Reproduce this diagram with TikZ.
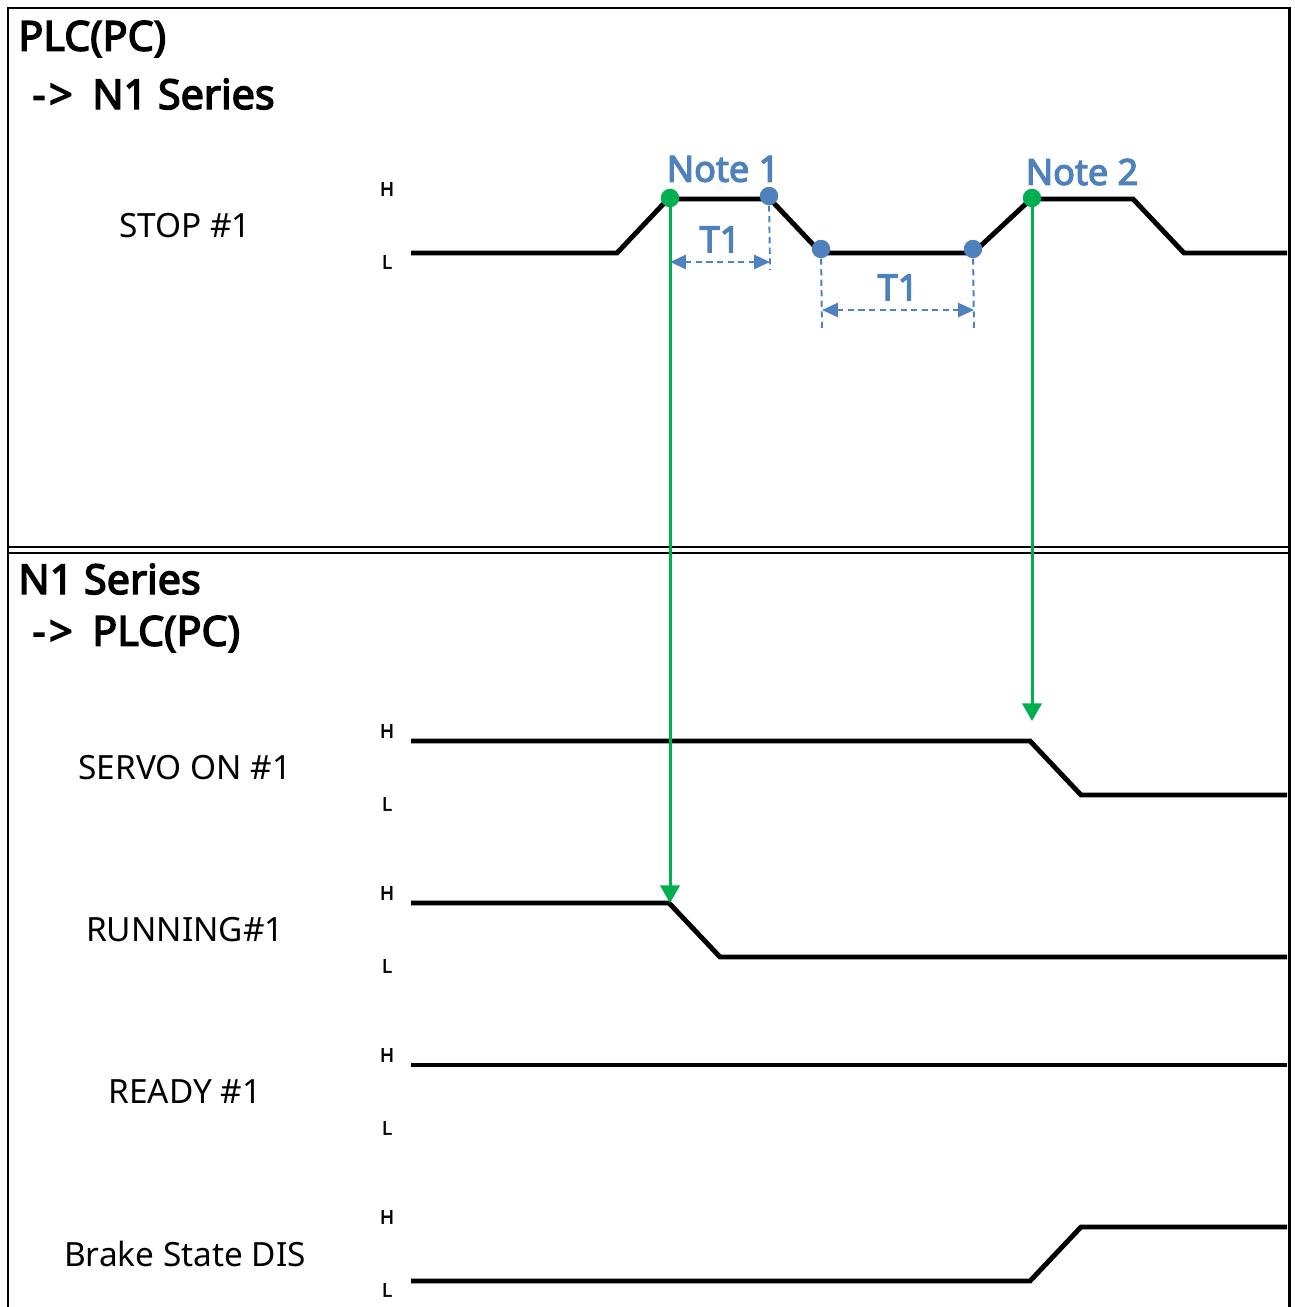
\documentclass[tikz,border=0pt]{standalone}
\usepackage{fontspec}
\setmainfont{Noto Sans}[AutoFakeBold=3.5]
\usetikzlibrary{arrows.meta}

\definecolor{noteblue}{RGB}{79,129,189}
\definecolor{triggreen}{RGB}{0,176,80}

\begin{document}
\begin{tikzpicture}[
      x=0.02cm, y=-0.02cm,
      frame/.style={line width=1.7pt},
      wave/.style={line width=2.8pt, line join=miter},
      title/.style={anchor=west, inner sep=0pt, font=\bfseries\fontsize{23.5}{26}\selectfont},
      sig/.style={inner sep=0pt, font=\fontsize{19}{22}\selectfont},
      lvl/.style={inner sep=0pt, font=\bfseries\fontsize{10.5}{12}\selectfont},
      note/.style={inner sep=0pt, text=noteblue, font=\bfseries\fontsize{20.5}{22}\selectfont},
      trig/.style={-{Triangle[length=10pt, width=11pt]}, triggreen, line width=1.7pt},
      dim/.style={{Triangle[length=9pt, width=8pt]}-{Triangle[length=9pt, width=8pt]},
          noteblue, line width=1.1pt, dash pattern=on 3.5pt off 2.5pt},
      guide/.style={noteblue, line width=1.1pt, dash pattern=on 3.5pt off 2.5pt},
      gdot/.style={circle, fill=triggreen, inner sep=0pt, minimum size=10.5pt},
      bdot/.style={circle, fill=noteblue, inner sep=0pt, minimum size=10.5pt}
    ]
    \useasboundingbox (0,0) rectangle (1294,1307);

    \draw[frame] (8,1307) -- (8,8) -- (1289,8) -- (1289,1307);
    \draw[frame] (8,547) -- (1289,547);
    \draw[frame] (8,553) -- (1289,553);

    \node[title] (plc) at (18,39) {PLC(PC)};
    \node[title] (ton1) at (32,94) {-\kern2pt>\kern5pt\ N1 Series};
    \node[title] (n1s) at (18,579) {N1 Series};
    \node[title] (toplc) at (32,634) {-\kern2pt>\kern5pt\ PLC(PC)};

    \node[sig] (stop) at (185,226) {STOP \#1};
    \node[sig] (servo) at (185,768) {SERVO ON \#1};
    \node[sig] (running) at (185,930) {RUNNING\#1};
    \node[sig] (ready) at (185,1092) {READY \#1};
    \node[sig] (brake) at (185,1254) {Brake State DIS};

    \foreach \y/\nm in {189/stop, 731/servo, 893/running, 1055/ready, 1217/brake} {
      \node[lvl] (\nm-h) at (387,\y) {H};
      \node[lvl] (\nm-l) at (387,\y+73) {L};
    }

    \draw[wave] (411,253) -- (617,253) -- (668,199) -- (770,199) -- (821,253)
        -- (973,253) -- (1031,199) -- (1133,199) -- (1184,253) -- (1287,253);
    \draw[wave] (411,741) -- (1030,741) -- (1081,795) -- (1287,795);
    \draw[wave] (411,903) -- (669,903) -- (720,957) -- (1287,957);
    \draw[wave] (411,1065) -- (1287,1065);
    \draw[wave] (411,1281) -- (1030,1281) -- (1081,1227) -- (1287,1227);

    \coordinate (runfall) at (670,903);
    \coordinate (servofall) at (1032,721);
    \node[gdot] (n1) at (670,198) {};
    \node[gdot] (n2) at (1032,198) {};
    \node[bdot] (b1) at (769,196) {};
    \node[bdot] (b2) at (821,249) {};
    \node[bdot] (b3) at (973,249) {};

    \draw[trig] (n1.center) -- (runfall);
    \draw[trig] (n2.center) -- (servofall);

    \node[note] (note1) at (723,169) {Note 1};
    \node[note] (note2) at (1082,172) {Note 2};

    \coordinate (g1) at (770,270);
    \coordinate (g2) at (822,332);
    \coordinate (g3) at (974,332);
    \draw[guide] (b1) -- (g1);
    \draw[guide] (b2) -- (g2);
    \draw[guide] (b3) -- (g3);
    \draw[dim] (670,262) -- (770,262) node[note, midway, above=5pt] (t1a) {T1};
    \draw[dim] (822,310) -- (974,310) node[note, midway, above=5pt] (t1b) {T1};
  \end{tikzpicture}
\end{document}
